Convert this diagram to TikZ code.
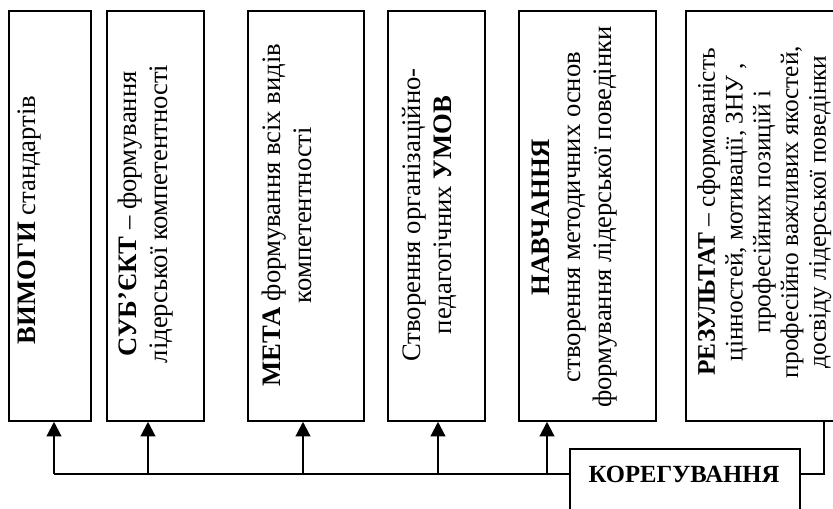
\documentclass[tikz,border=0pt]{standalone}
\usepackage{fontspec}
\setmainfont{Liberation Serif}
\usetikzlibrary{arrows.meta}
\begin{document}
\begin{tikzpicture}[x=0.75pt,y=-0.75pt,
  stagebox/.style={draw, line width=1.3pt, inner sep=0pt, anchor=north west,
    minimum height=307.5pt},
  vtext/.style={rotate=90, anchor=north, align=center, inner sep=0pt,
    font=\fontsize{20}{23}\selectfont},
  link/.style={line width=1.6pt},
  arr/.style={link, -{Triangle[length=11pt,width=11pt]}}]
\useasboundingbox (0,0) rectangle (833,508);
\path[clip] (0,0) rectangle (833,508);

% stage boxes
\node[stagebox, minimum width=61.5pt]  (b1) at (8,10) {};
\node[stagebox, minimum width=72.75pt] (b2) at (106,10) {};
\node[stagebox, minimum width=87pt]    (b3) at (247,10) {};
\node[stagebox, minimum width=72.75pt] (b4) at (387,10) {};
\node[stagebox, minimum width=102.75pt](b5) at (518,10) {};
\node[stagebox, minimum width=123.75pt](b6) at (685,10) {};

% vertical captions
\node[vtext] (t1) at (18,220) {\textbf{ВИМОГИ} стандартів};
\node[vtext] (t2) at (118,214) {\textbf{СУБ’ЄКТ} – формування\\лідерської компетентності};
\node[vtext] (t3) at (262,215) {\textbf{МЕТА} формування всіх видів\\компетентності};
\node[vtext] (t4) at (402,215) {Створення організаційно-\\педагогічних \textbf{УМОВ}};
\node[vtext] (t5) at (532,217) {\textbf{НАВЧАННЯ}\\створення методичних основ\\формування лідерської поведінки};
\node[vtext, font=\fontsize{19}{20.8}\selectfont] (t6) at (697,212)
  {\textbf{РЕЗУЛЬТАТ} – сформованість\\цінностей, мотивації, ЗНУ ,\\професійних позицій і\\професійно важливих якостей,\\досвіду лідерської поведінки};

% correction block
\node[draw, line width=1.3pt, inner sep=0pt, anchor=north west,
  minimum width=172.5pt, minimum height=61.5pt] (korg) at (569,448) {};
\node[font=\fontsize{18.5}{21}\selectfont\bfseries, inner sep=0pt] (korgt) at (684,474) {КОРЕГУВАННЯ};

% feedback bus
\coordinate (a1) at (54,474);
\coordinate (a2) at (148,474);
\coordinate (a3) at (303,474);
\coordinate (a4) at (438,474);
\coordinate (a5) at (547,474);
\coordinate (r6) at (824,474);

\draw[link] (korg.west |- korgt) -- (a1);
\draw[arr] (a1) -- (a1 |- b1.south);
\draw[arr] (a2) -- (a2 |- b2.south);
\draw[arr] (a3) -- (a3 |- b3.south);
\draw[arr] (a4) -- (a4 |- b4.south);
\draw[arr] (a5) -- (a5 |- b5.south);
\draw[link] (r6 |- b6.south) -- (r6) -- (korg.east |- korgt);
\end{tikzpicture}
\end{document}
